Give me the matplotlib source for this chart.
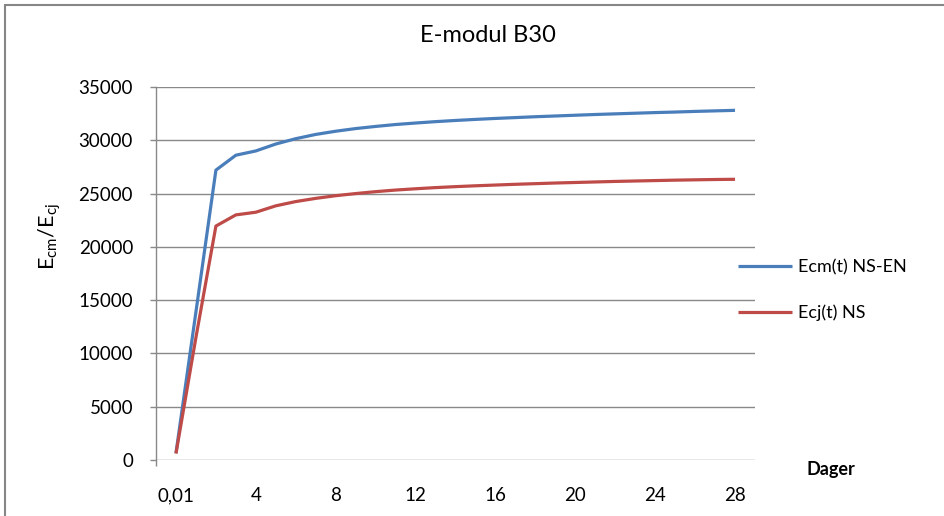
import matplotlib
matplotlib.use("Agg")
import matplotlib.pyplot as plt
import matplotlib.patches as patches
import numpy as np

plt.rcParams['font.family'] = ['Lato', 'DejaVu Sans']
plt.rcParams['mathtext.default'] = 'regular'

# ---- data ----
days = ["0,01"] + [str(d) for d in range(1, 29)]
tick_labels = ["0,01", "4", "8", "12", "16", "20", "24", "28"]
ecm_ns_en = [650, 13900, 27200, 28600, 29000, 29650, 30150, 30550, 30850, 31100,
             31300, 31480, 31620, 31750, 31860, 31960, 32050, 32130, 32210, 32280,
             32350, 32420, 32480, 32540, 32600, 32650, 32710, 32760, 32810]
ecj_ns = [600, 11500, 21950, 23000, 23250, 23850, 24250, 24550, 24800, 25000,
          25180, 25330, 25450, 25560, 25650, 25730, 25800, 25870, 25930, 25990,
          26040, 26090, 26140, 26180, 26220, 26260, 26290, 26320, 26340]
series_names = ["Ecm(t) NS-EN", "Ecj(t) NS"]
y_ticks = [0, 5000, 10000, 15000, 20000, 25000, 30000, 35000]

W, H = 945, 516
fig = plt.figure(figsize=(W / 100, H / 100), dpi=100)
ax = fig.add_axes([156 / W, 1 - 460 / H, (755 - 156) / W, (460 - 87) / H])

grid_c = '#898989'
x = np.arange(len(days))
l1, = ax.plot(x, ecm_ns_en, color='#4a7ebb', lw=2.3, solid_joinstyle='round',
              solid_capstyle='butt', zorder=3)
l2, = ax.plot(x, ecj_ns, color='#be4b48', lw=2.3, solid_joinstyle='round',
              solid_capstyle='butt', zorder=3)

ax.set_xlim(-1, 29)
ax.set_ylim(0, 35000)
ax.set_yticks(y_ticks)
ax.set_yticklabels([str(v) for v in y_ticks])
ax.set_xticks([days.index(t) for t in tick_labels])
ax.set_xticklabels(tick_labels)
ax.set_xticks([-1], minor=True)

for s in ['top', 'right', 'bottom']:
    ax.spines[s].set_visible(False)
ax.spines['left'].set_color(grid_c)
ax.spines['left'].set_linewidth(1.0)

ax.yaxis.grid(True, color=grid_c, lw=1.0)
ax.set_axisbelow(True)
ax.tick_params(axis='y', length=4.5, width=1.0, color=grid_c, pad=12,
               labelsize=13.5, labelcolor='black', direction='out')
ax.tick_params(axis='x', which='major', length=0, pad=19.5, labelsize=13.5)
ax.tick_params(axis='x', which='minor', length=4, width=1.0, color=grid_c,
               direction='out')

fig.text(487.5 / W, 1 - 36 / H, "E-modul B30", ha='center', va='center',
         fontsize=17)
fig.text(50 / W, 1 - 237 / H, r"E$_{cm}$/E$_{cj}$", ha='center', va='center',
         rotation=90, fontsize=15.5)
fig.text(831 / W, 1 - 469 / H, "Dager", ha='center', va='center',
         fontsize=13, fontweight='bold')

fig.legend([l1, l2], series_names, loc='upper left',
           bbox_to_anchor=(738 / W, 1 - 259 / H), frameon=False,
           fontsize=13, handlelength=3.0, handletextpad=0.3,
           labelspacing=1.62, borderpad=0, borderaxespad=0)

fig.patches.append(patches.Rectangle((5 / W, -0.1), 1.2, 1 - 5 / H + 0.1,
                                     transform=fig.transFigure, fill=False,
                                     ec='#868686', lw=1.5))

fig.savefig("out.png", dpi=100, facecolor='white')
